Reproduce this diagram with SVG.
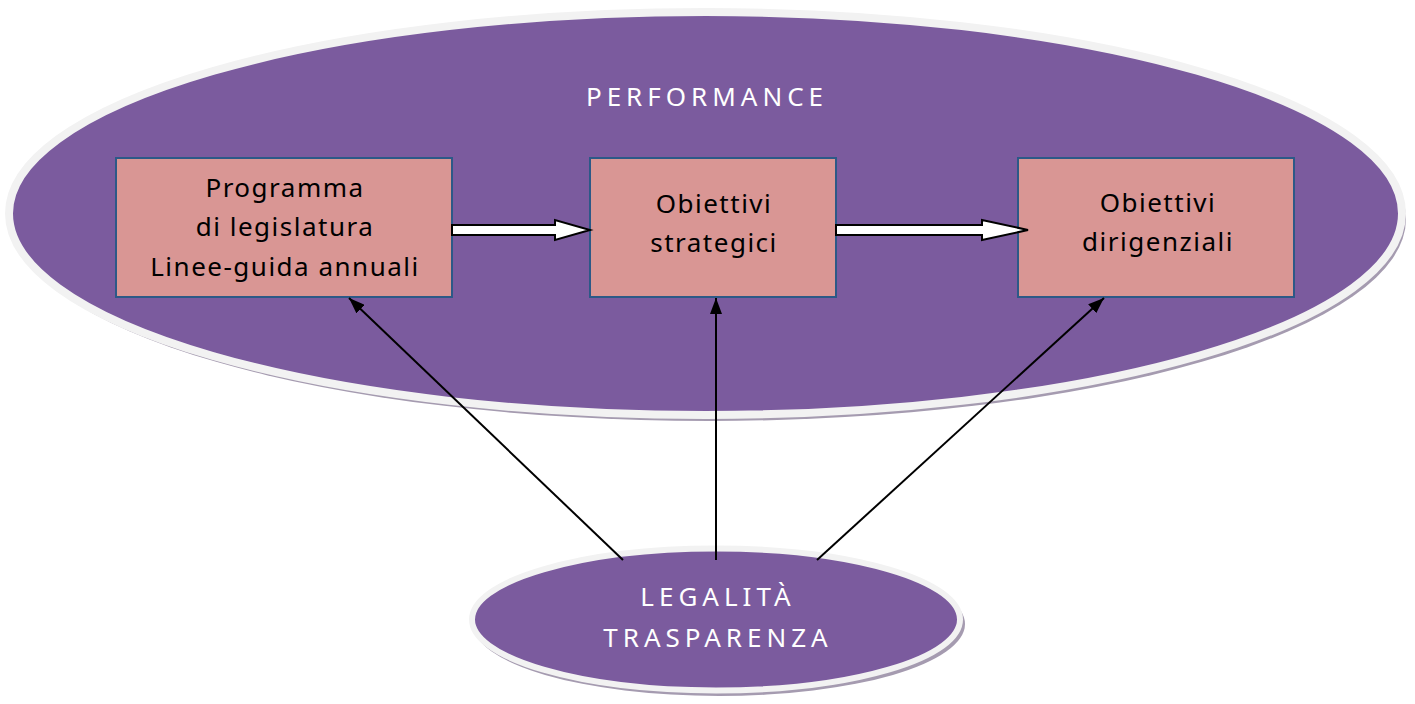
<svg xmlns="http://www.w3.org/2000/svg" width="1415" height="704" viewBox="0 0 1415 704">
<style>
.shadow{fill:#a59bb0;}
.oval{fill:#7b5b9e;stroke:#f2f2f2;}
.box{fill:#d99694;stroke:#2c5987;stroke-width:2;}
.t{font-family:"Segoe Print","Noto Sans","Liberation Sans",sans-serif;font-size:26px;text-anchor:middle;}
.dark{fill:#000;letter-spacing:1.5px;}
.light{fill:#fff;letter-spacing:5px;}
.block{fill:#fff;stroke:#000;stroke-width:2;stroke-linejoin:miter;}
.line{stroke:#000;stroke-width:2;fill:none;marker-end:url(#ah);}
</style>
<defs>
<marker id="ah" viewBox="0 0 16 12" refX="16" refY="6" markerWidth="16" markerHeight="12" markerUnits="userSpaceOnUse" orient="auto">
<path d="M0,0 L16,6 L0,12 Z" fill="#000"/>
</marker>
</defs>
<g id="performance">
<ellipse class="shadow" cx="709" cy="219" rx="697" ry="202"/>
<ellipse class="oval" cx="705.5" cy="213.5" rx="696.5" ry="201.5" stroke-width="8"/>
<text class="t light" x="707" y="106">PERFORMANCE</text>
</g>
<g id="programma">
<rect class="box" x="116" y="158" width="336" height="139"/>
<text class="t dark" x="285" y="197">Programma</text>
<text class="t dark" x="285" y="236">di legislatura</text>
<text class="t dark" x="285" y="276">Linee-guida annuali</text>
</g>
<g id="strategici">
<rect class="box" x="590" y="158" width="246" height="139"/>
<text class="t dark" x="714" y="213">Obiettivi</text>
<text class="t dark" x="714" y="252">strategici</text>
</g>
<g id="dirigenziali">
<rect class="box" x="1018" y="158" width="276" height="139"/>
<text class="t dark" x="1158" y="212">Obiettivi</text>
<text class="t dark" x="1158" y="251">dirigenziali</text>
</g>
<g id="legalita">
<ellipse class="shadow" cx="719" cy="624" rx="246" ry="72"/>
<ellipse class="oval" cx="716" cy="619.5" rx="244" ry="71" stroke-width="6"/>
<text class="t light" x="718" y="606">LEGALITÀ</text>
<text class="t light" x="718" y="647">TRASPARENZA</text>
</g>
<g id="connectors">
<path class="block" d="M452,225 L555,225 L555,220 L590,230 L555,240 L555,235 L452,235 Z"/>
<path class="block" d="M836,225 L982,225 L982,220 L1028,230 L982,240 L982,235 L836,235 Z"/>
<line class="line" x1="623" y1="560" x2="349" y2="298"/>
<line class="line" x1="716" y1="560" x2="716" y2="298"/>
<line class="line" x1="817" y1="560" x2="1104" y2="298"/>
</g>
</svg>
